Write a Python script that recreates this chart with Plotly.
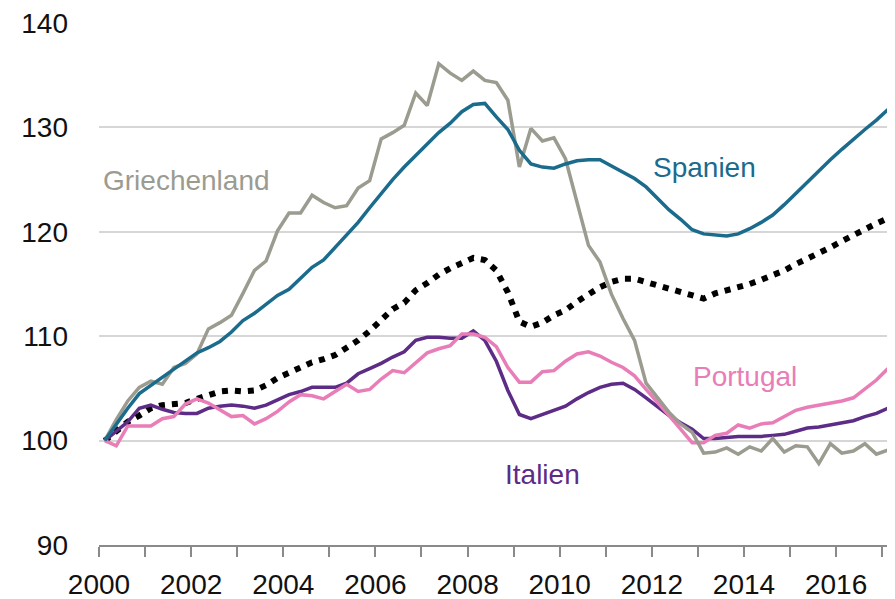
import plotly.graph_objects as go

# Quarterly data, 2000Q1 .. 2017Q1 (index 2000 = 100)
years = list(range(2000, 2018))
quarters = [(y, q) for y in years for q in (1, 2, 3, 4)][:69]
x_dates = [y + (q - 0.5) / 4 for (y, q) in quarters]

griechenland = [100, 102.0, 103.8, 105.1, 105.7, 105.4, 107.0, 107.4, 108.3, 110.7,
                111.3, 112.0, 114.1, 116.3, 117.2, 120.1, 121.8, 121.8, 123.5, 122.8,
                122.3, 122.5, 124.2, 124.9, 128.9, 129.5, 130.2, 133.3, 132.1, 136.1,
                135.2, 134.5, 135.4, 134.5, 134.3, 132.6, 126.2, 129.9, 128.7, 129.0,
                127.0, 122.7, 118.7, 117.1, 114.0, 111.7, 109.6, 105.5, 104.1, 102.7,
                101.6, 100.8, 98.8, 98.9, 99.3, 98.7, 99.4, 99.0, 100.2, 98.9,
                99.5, 99.4, 97.8, 99.7, 98.8, 99.0, 99.7, 98.7, 99.1]

spanien = [100, 101.6, 103.1, 104.5, 105.3, 106.0, 106.8, 107.6, 108.4, 108.9,
           109.5, 110.4, 111.5, 112.2, 113.0, 113.9, 114.5, 115.5, 116.6, 117.3,
           118.5, 119.8, 120.9, 122.3, 123.7, 125.0, 126.2, 127.3, 128.4, 129.5,
           130.4, 131.5, 132.2, 132.3, 131.0, 129.8, 127.8, 126.5, 126.2, 126.1,
           126.5, 126.8, 126.9, 126.9, 126.3, 125.7, 125.1, 124.3, 123.2, 122.1,
           121.2, 120.2, 119.8, 119.7, 119.6, 119.8, 120.3, 120.9, 121.6, 122.6,
           123.7, 124.7, 125.9, 126.9, 127.9, 128.9, 129.8, 130.7, 131.7]

euroraum = [100, 100.9, 101.8, 102.4, 103.1, 103.4, 103.5, 103.6, 104.0, 104.3,
            104.7, 104.8, 104.7, 104.8, 105.3, 106.0, 106.5, 107.0, 107.5, 107.8,
            108.2, 108.9, 109.6, 110.5, 111.5, 112.6, 113.2, 114.4, 115.1, 115.9,
            116.5, 117.0, 117.5, 117.3, 116.3, 114.2, 111.4, 110.9, 111.3, 112.0,
            112.5, 113.3, 114.0, 114.7, 115.2, 115.5, 115.5, 115.2, 114.8, 114.5,
            114.3, 114.0, 113.6, 114.1, 114.4, 114.6, 115.0, 115.4, 115.8, 116.3,
            116.9, 117.4, 118.0, 118.5, 119.1, 119.7, 120.2, 120.8, 121.3]

italien = [100, 100.9, 101.8, 103.1, 103.4, 103.0, 102.7, 102.6, 102.6, 103.1,
           103.3, 103.4, 103.3, 103.1, 103.4, 103.9, 104.4, 104.7, 105.1, 105.1,
           105.1, 105.5, 106.4, 106.9, 107.4, 108.0, 108.5, 109.6, 109.9, 109.9,
           109.8, 109.8, 110.5, 109.6, 107.6, 104.8, 102.5, 102.1, 102.5, 102.9,
           103.3, 104.0, 104.6, 105.1, 105.4, 105.5, 104.9, 104.1, 103.2, 102.4,
           101.7, 101.1, 100.2, 100.2, 100.3, 100.4, 100.4, 100.4, 100.5, 100.6,
           100.9, 101.2, 101.3, 101.5, 101.7, 101.9, 102.3, 102.6, 103.1]

portugal = [100, 99.5, 101.4, 101.4, 101.4, 102.1, 102.3, 103.5, 104.0, 103.6,
            102.9, 102.3, 102.4, 101.6, 102.1, 102.8, 103.7, 104.4, 104.3, 104.0,
            104.7, 105.4, 104.7, 104.9, 105.9, 106.7, 106.5, 107.4, 108.4, 108.8,
            109.1, 110.2, 110.2, 109.9, 109.0, 107.0, 105.6, 105.6, 106.6, 106.7,
            107.6, 108.3, 108.5, 108.1, 107.5, 107.0, 106.2, 104.9, 103.7, 102.4,
            101.1, 99.8, 99.8, 100.5, 100.7, 101.5, 101.2, 101.6, 101.7, 102.3,
            102.9, 103.2, 103.4, 103.6, 103.8, 104.1, 105.0, 105.8, 106.9]

y_ticks = [90, 100, 110, 120, 130, 140]
x_ticks = [2000, 2002, 2004, 2006, 2008, 2010, 2012, 2014, 2016]

labels = ["Griechenland", "Spanien", "Portugal", "Italien"]
label_x = [2000.04, 2011.98, 2012.84, 2008.76]
label_y = [124.9, 126.2, 106.1, 96.8]

GRAY = "#9b9b90"
BLUE = "#1a6b8c"
PURPLE = "#5d2c86"
PINK = "#e97db7"
label_colors = [GRAY, BLUE, PINK, PURPLE]

FONT = "Liberation Sans, Arial, sans-serif"
FS = 28

fig = go.Figure()
fig.add_trace(go.Scatter(x=x_dates, y=euroraum, mode="lines",
                         line=dict(color="#000000", width=6, dash="6px,7px")))
fig.add_trace(go.Scatter(x=x_dates, y=italien, mode="lines",
                         line=dict(color=PURPLE, width=3.5)))
fig.add_trace(go.Scatter(x=x_dates, y=portugal, mode="lines",
                         line=dict(color=PINK, width=3.5)))
fig.add_trace(go.Scatter(x=x_dates, y=griechenland, mode="lines",
                         line=dict(color=GRAY, width=3.5)))
fig.add_trace(go.Scatter(x=x_dates, y=spanien, mode="lines",
                         line=dict(color=BLUE, width=3.5)))

for t, lx, ly, c in zip(labels, label_x, label_y, label_colors):
    fig.add_annotation(x=lx, y=ly, text=t, showarrow=False, xanchor="left",
                       yanchor="middle", font=dict(color=c, size=FS, family=FONT))

# page body has an 8px margin; figure is sized to fit the 895x599 window
fig.update_layout(
    width=887, height=591,
    margin=dict(l=91, r=5, t=15, b=54),
    paper_bgcolor="white", plot_bgcolor="white",
    showlegend=False,
    font=dict(family=FONT, size=FS, color="#111111"),
)
fig.update_xaxes(
    range=[2000, 2017.17], tickvals=x_ticks, ticktext=[str(v) for v in x_ticks],
    automargin=False,
    showgrid=False, zeroline=False, showline=True, linecolor="#8a8a8a", linewidth=2,
    ticks="outside", ticklen=10, tickcolor="#8a8a8a", tickwidth=2,
    ticklabelstandoff=3, ticklabeloverflow="allow",
    minor=dict(dtick=1, tick0=2000, ticks="outside", ticklen=10,
               tickcolor="#8a8a8a", tickwidth=2, showgrid=False),
)
fig.update_yaxes(
    range=[90, 140], tickvals=y_ticks, ticktext=[str(v) for v in y_ticks],
    automargin=False, ticklabeloverflow="allow",
    showgrid=True, gridcolor="#d6d6d6", gridwidth=2, zeroline=False,
    showline=False, ticks="", ticklabelstandoff=30,
)

fig.write_html("out.html")
